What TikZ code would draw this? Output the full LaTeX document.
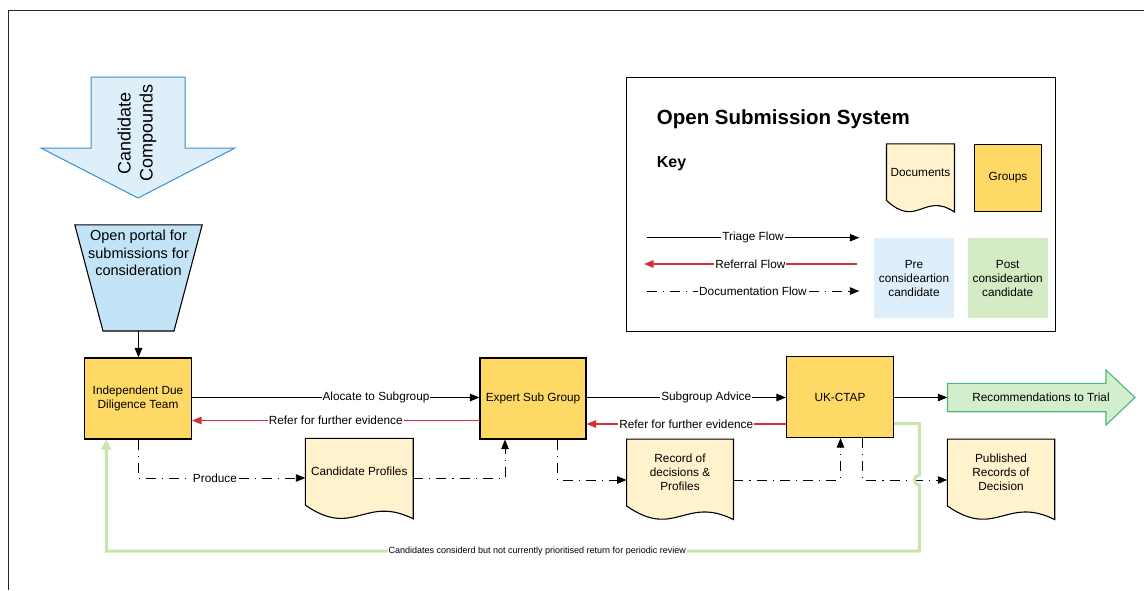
\documentclass[tikz,border=0pt]{standalone}
\usepackage{fontspec}
\setmainfont{Liberation Sans}
\usetikzlibrary{arrows.meta,calc}
\definecolor{grpY}{HTML}{FFD966}
\definecolor{docY}{HTML}{FFF2CC}
\definecolor{preB}{HTML}{DEEEFA}
\definecolor{portalB}{HTML}{C3E4F6}
\definecolor{postG}{HTML}{D5EBC5}
\definecolor{recG}{HTML}{D2EECB}
\definecolor{recS}{HTML}{4DB57F}
\definecolor{refR}{HTML}{D0323C}
\definecolor{loopG}{HTML}{C6E6AC}
\definecolor{ccB}{HTML}{DFEFFA}
\definecolor{ccS}{HTML}{3A8FD3}
\pgfdeclarelayer{background}
\pgfsetlayers{background,main}
\newcommand{\mylbl}{\fontsize{11.8}{14}\selectfont}
\newcommand{\docwave}[1]{\draw[docd] let \p1=(#1.south west), \p2=(#1.north east), \n1={\x2-\x1}, \n2={(\y2-\y1)/0.83} in (\x1,\y1) -- (\x1,\y2) -- (\x2,\y2) -- (\x2,\y1-0.17*\n2) .. controls (\x1+0.55*\n1,\y1+0.13*\n2) and (\x1+0.45*\n1,\y1-0.42*\n2) .. (\x1,\y1) -- cycle;}
\begin{document}
\begin{tikzpicture}[x=1pt,y=-1pt,
  grp/.style={draw=black, line width=1.1pt, fill=grpY, minimum width=107pt, minimum height=81pt, align=center, font=\mylbl, inner sep=2pt},
  docn/.style={inner sep=0pt, align=center, font=\mylbl},
  docd/.style={draw=black, line width=1.1pt, fill=docY},
  flow/.style={line width=1pt, -{Triangle[length=9.5pt,width=7.5pt]}},
  rflow/.style={flow, line width=1.3pt, draw=refR, color=refR},
  dflow/.style={flow, line width=0.9pt, dash pattern=on 10pt off 6pt on 1.2pt off 6pt},
  lbl/.style={fill=white, inner sep=1pt, font=\mylbl, text=black},
  swatch/.style={minimum width=80pt, minimum height=80pt, align=center, font=\mylbl, inner sep=0pt},
  loopline/.style={draw=loopG, line width=3pt, -{Triangle[length=10pt,width=10pt]}}
]
\useasboundingbox (0,0) rectangle (1144,590);
\draw[line width=1pt, black!85] (8,590) -- (8,10) -- (1144,10);

% Candidate compounds arrow
\draw[fill=ccB, draw=ccS, line width=1pt] (91,77) -- (185,77) -- (185,148) -- (235,148) -- (138,198) -- (41,148) -- (91,148) -- cycle;
\node[rotate=90, align=center, font=\fontsize{18}{22}\selectfont] (cc) at (137,133) {Candidate\\Compounds};

% portal
\node[docn, font=\fontsize{14.5}{17.5}\selectfont, minimum width=127pt, minimum height=56pt] (portal) at (138.5,253) {Open portal for\\submissions for\\consideration};
\coordinate (portalbot) at (138.5,331);

% groups
\node[grp] (iddt) at (138,398.5) {Independent Due\\Diligence Team};
\node[grp, minimum width=106pt] (esg) at (533,398.5) {Expert Sub Group};
\node[grp] (uk) at (840,397) {UK-CTAP};

% documents
\node[docn, minimum width=107.5pt, minimum height=66.4pt] (cp) at (359.25,471.7) {Candidate Profiles};
\node[docn, minimum width=106.5pt, minimum height=66.4pt] (rd) at (680,472.5) {Record of\\decisions \&\\Profiles};
\node[docn, minimum width=107pt, minimum height=66.4pt] (pr) at (1001,472.5) {Published\\Records of\\Decision};

% recommendations arrow
\draw[fill=recG, draw=recS, line width=1.1pt] (947.5,383.3) -- (1106,383.3) -- (1106,370) -- (1135,397.5) -- (1106,425) -- (1106,411.7) -- (947.5,411.7) -- cycle;
\node[docn, minimum width=187pt, minimum height=28pt] (rec) at (1041,397.5) {Recommendations to Trial};

% key
\node[draw=black, line width=1pt, minimum width=428.3pt, minimum height=253.7pt] (keybox) at (840.85,204.15) {};
\node[anchor=base west, font=\fontsize{20.5}{24}\selectfont\bfseries, inner sep=0pt] (title) at (656.7,124) {Open Submission System};
\node[anchor=base west, font=\fontsize{16}{19}\selectfont\bfseries, inner sep=0pt] (keyt) at (656.7,167) {Key};
\node[docn, minimum width=67.6pt, minimum height=56.2pt] (kdoc) at (920.5,172.1) {Documents};
\node[grp, minimum width=67.7pt, minimum height=67.3pt] (kgrp) at (1008,177.7) {Groups};
\node[swatch, fill=preB] (pre) at (914,278.3) {Pre\\consideartion\\candidate};
\node[swatch, fill=postG] (post) at (1007.7,278.3) {Post\\consideartion\\candidate};

\begin{pgfonlayer}{background}
\draw[draw=black, line width=1.1pt, fill=portalB] (portal.north west) -- (portal.north east) -- (174,331) -- (103,331) -- cycle;
\docwave{cp}
\docwave{rd}
\docwave{pr}
\docwave{kdoc}
\end{pgfonlayer}

% key lines
\coordinate (k1a) at (646.7,237.7); \coordinate (k1b) at (859.3,237.7);
\coordinate (k2a) at (856.7,264);   \coordinate (k2b) at (644,264);
\coordinate (k3a) at (646.7,291);   \coordinate (k3b) at (859.3,291);
\draw[flow] (k1a) -- node[lbl]{Triage Flow} (k1b);
\draw[rflow] (k2a) -- node[lbl]{Referral Flow} (k2b);
\draw[dflow] (k3a) -- node[lbl]{Documentation Flow} (k3b);

% main flows
\coordinate (a1) at (0,397.5);
\coordinate (r1) at (0,420.5);
\coordinate (r2) at (0,424);
\draw[flow] (portalbot) -- (portalbot |- iddt.north);
\draw[flow] (iddt.east |- a1) -- node[lbl, pos=0.64]{Alocate to Subgroup} (esg.west |- a1);
\draw[rflow] (esg.west |- r1) -- node[lbl]{Refer for further evidence} (iddt.east |- r1);
\draw[flow] (esg.east |- a1) -- node[lbl, pos=0.6]{Subgroup Advice} (uk.west |- a1);
\draw[rflow] (uk.west |- r2) -- node[lbl]{Refer for further evidence} (esg.east |- r2);
\draw[flow] (uk.east |- a1) -- (rec.west |- a1);

% documentation flows
\coordinate (j1) at (505,478);
\coordinate (j2) at (557,480);
\coordinate (j3) at (840.5,480);
\coordinate (j4) at (862,480);
\draw[dflow] (iddt.south) |- node[lbl, pos=0.73]{Produce} (cp.west |- j1);
\draw[dflow] (cp.east |- j1) -| (j1 |- esg.south);
\draw[dflow] (j2 |- esg.south) |- (rd.west |- j2);
\draw[dflow] (rd.east |- j2) -| (j3 |- uk.south);
\draw[dflow] (j4 |- uk.south) |- (pr.west |- j4);

% green loop
\coordinate (g1) at (919.4,423.5);
\coordinate (g2) at (919.4,551);
\coordinate (g3) at (106.3,551);
\draw[loopline] (uk.east |- g1) -- (g1) -- ([yshift=5pt]g1 |- j4) arc[start angle=90, end angle=270, radius=5pt] -- (g2) -- node[pos=0.47, fill=white, inner sep=1pt, font=\fontsize{9}{10}\selectfont, text=black]{Candidates considerd but not currently prioritised return for periodic review} (g3) -- (g3 |- iddt.south);
\end{tikzpicture}
\end{document}
